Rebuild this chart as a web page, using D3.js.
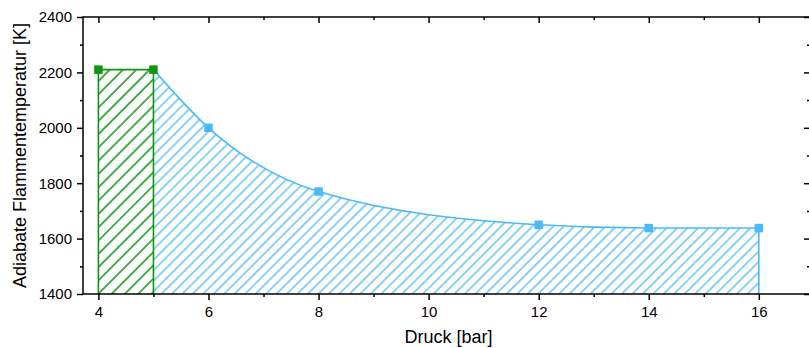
<!DOCTYPE html>
<html>
<head>
<meta charset="utf-8">
<script src="https://cdn.jsdelivr.net/npm/d3@7/dist/d3.min.js"></script>
<style>
  html, body { margin: 0; padding: 0; background: #fff; }
  svg { display: block; font-family: "Liberation Sans", Arial, sans-serif; }
</style>
</head>
<body>
<svg id="chart" width="809" height="348"></svg>
<script>
// Pressure (bar) and adiabatic flame temperature (K)
const pressureGreen = [4, 5];
const tempGreen = [2210, 2210];
const pressureBlue = [5, 6, 8, 12, 14, 16];
const tempBlue = [2210, 2000, 1770, 1650, 1638, 1638];

const xMajorTicks = [4, 6, 8, 10, 12, 14, 16];
const xMinorTicks = [5, 7, 9, 11, 13, 15];
const yMajorTicks = [1400, 1600, 1800, 2000, 2200, 2400];
const yMinorTicks = [1500, 1700, 1900, 2100, 2300];

const xTitle = "Druck [bar]";
const yTitle = "Adiabate Flammentemperatur [K]";

const GREEN = "#0f960f";
const BLUE = "#4dbaf7";

const svg = d3.select("#chart");
const plotL = 83, plotR = 810, plotT = 17, plotB = 294;

const x = d3.scaleLinear().domain([3.72, 16.93]).range([plotL, plotR]);
const y = d3.scaleLinear().domain([1400, 2400]).range([plotB, plotT]);

// Hatch patterns
const defs = svg.append("defs");
function hatch(id, spacing, color, width) {
  const p = defs.append("pattern")
    .attr("id", id)
    .attr("patternUnits", "userSpaceOnUse")
    .attr("width", spacing)
    .attr("height", spacing)
    .attr("patternTransform", "rotate(45)");
  p.append("line")
    .attr("x1", spacing / 2).attr("y1", -1)
    .attr("x2", spacing / 2).attr("y2", spacing + 1)
    .attr("stroke", color)
    .attr("stroke-width", width);
}
hatch("hatchBlue", 7.4, BLUE, 1.3);
hatch("hatchGreen", 9.4, GREEN, 1.5);

const blueData = pressureBlue.map((p, i) => ({ p, t: tempBlue[i] }));
const greenData = pressureGreen.map((p, i) => ({ p, t: tempGreen[i] }));

// Blue area and curve
const area = d3.area()
  .x(d => x(d.p))
  .y0(y(1400))
  .y1(d => y(d.t))
  .curve(d3.curveMonotoneX);
const line = d3.line()
  .x(d => x(d.p))
  .y(d => y(d.t))
  .curve(d3.curveMonotoneX);

svg.append("path").datum(blueData)
  .attr("d", area)
  .attr("fill", "url(#hatchBlue)");
svg.append("path").datum(blueData)
  .attr("d", line)
  .attr("fill", "none")
  .attr("stroke", BLUE)
  .attr("stroke-width", 1.6);
// drop line at the last blue point
const lastBlue = blueData[blueData.length - 1];
svg.append("line")
  .attr("x1", x(lastBlue.p)).attr("x2", x(lastBlue.p))
  .attr("y1", y(lastBlue.t)).attr("y2", y(1400))
  .attr("stroke", BLUE).attr("stroke-width", 1.6);

// Green area
const greenArea = d3.area()
  .x(d => x(d.p))
  .y0(y(1400))
  .y1(d => y(d.t));
svg.append("path").datum(greenData)
  .attr("d", greenArea)
  .attr("fill", "url(#hatchGreen)");
svg.append("path").datum(greenData)
  .attr("d", d3.line().x(d => x(d.p)).y(d => y(d.t)))
  .attr("fill", "none")
  .attr("stroke", GREEN)
  .attr("stroke-width", 1.6);
greenData.forEach(d => {
  svg.append("line")
    .attr("x1", x(d.p)).attr("x2", x(d.p))
    .attr("y1", y(d.t)).attr("y2", y(1400))
    .attr("stroke", GREEN).attr("stroke-width", 1.6);
});

// Markers
const ms = 8.5;
svg.append("g").selectAll("rect")
  .data(blueData.slice(1))
  .join("rect")
  .attr("x", d => x(d.p) - ms / 2)
  .attr("y", d => y(d.t) - ms / 2)
  .attr("width", ms).attr("height", ms)
  .attr("fill", BLUE);
svg.append("g").selectAll("rect")
  .data(greenData)
  .join("rect")
  .attr("x", d => x(d.p) - ms / 2)
  .attr("y", d => y(d.t) - ms / 2)
  .attr("width", ms).attr("height", ms)
  .attr("fill", GREEN);

// Axes
function styleAxis(g) {
  g.select(".domain").remove();
  g.selectAll(".tick line").attr("stroke", "#000").attr("stroke-width", 1.5);
  g.selectAll(".tick text").attr("fill", "#000").attr("font-size", "15px")
    .attr("font-family", '"Liberation Sans", Arial, sans-serif');
}

// bottom
svg.append("g").attr("transform", `translate(0,${plotB})`)
  .call(d3.axisBottom(x).tickValues(xMajorTicks).tickSize(6).tickPadding(6).tickFormat(d3.format("d")))
  .call(styleAxis);
svg.append("g").attr("transform", `translate(0,${plotB})`)
  .call(d3.axisBottom(x).tickValues(xMinorTicks).tickSize(3).tickFormat(""))
  .call(styleAxis);
// top (inward)
svg.append("g").attr("transform", `translate(0,${plotT})`)
  .call(d3.axisBottom(x).tickValues(xMajorTicks).tickSize(6).tickFormat(""))
  .call(styleAxis);
svg.append("g").attr("transform", `translate(0,${plotT})`)
  .call(d3.axisBottom(x).tickValues(xMinorTicks).tickSize(3).tickFormat(""))
  .call(styleAxis);
// left
svg.append("g").attr("transform", `translate(${plotL},0)`)
  .call(d3.axisLeft(y).tickValues(yMajorTicks).tickSize(6).tickPadding(5).tickFormat(d3.format("d")))
  .call(styleAxis);
svg.append("g").attr("transform", `translate(${plotL},0)`)
  .call(d3.axisLeft(y).tickValues(yMinorTicks).tickSize(3).tickFormat(""))
  .call(styleAxis);
// right (inward)
svg.append("g").attr("transform", `translate(${plotR},0)`)
  .call(d3.axisLeft(y).tickValues(yMajorTicks).tickSize(6).tickFormat(""))
  .call(styleAxis);
svg.append("g").attr("transform", `translate(${plotR},0)`)
  .call(d3.axisLeft(y).tickValues(yMinorTicks).tickSize(3).tickFormat(""))
  .call(styleAxis);

// Frame
svg.append("rect")
  .attr("x", plotL).attr("y", plotT)
  .attr("width", plotR - plotL).attr("height", plotB - plotT)
  .attr("fill", "none").attr("stroke", "#000").attr("stroke-width", 1.5);

// Titles
svg.append("text")
  .attr("x", (plotL + plotR) / 2 + 2).attr("y", 343)
  .attr("text-anchor", "middle")
  .attr("font-size", "18px")
  .attr("fill", "#000")
  .text(xTitle);
svg.append("text")
  .attr("transform", `translate(26,${(plotT + plotB) / 2}) rotate(-90)`)
  .attr("text-anchor", "middle")
  .attr("font-size", "18px")
  .attr("fill", "#000")
  .text(yTitle);
</script>
</body>
</html>
